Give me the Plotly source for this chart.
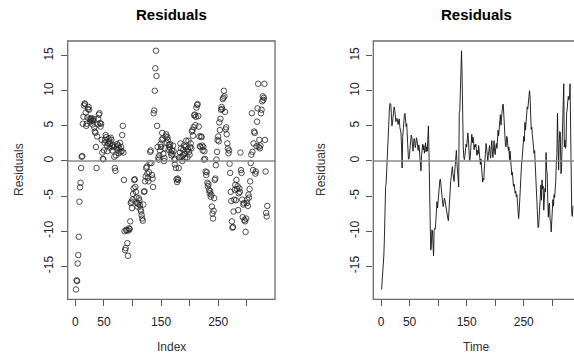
import plotly.graph_objects as go

# ---- data ----
resid_001_013 = [-18.3, -17.0, -17.1, -14.6, -13.4, -10.8, -5.8, -3.75, -3.1, -1.0, 0.6, 0.7, 5.3]
resid_014_049 = [6.3, 7.9, 8.2, 8.1, 6.9, 5.0, 5.3, 6.2, 7.4, 7.7, 7.3, 6.0, 5.6, 5.9, 6.1, 5.7, 5.2, 5.8,
                 6.0, 4.8, 4.2, 4.0, 2.0, -1.0, 3.5, 5.2, 6.0, 6.6, 6.8, 5.4, 4.9, 5.3, 3.0, 1.2, 0.3, 0.25]
resid_050_085 = [1.5, 2.6, 3.0, 3.7, 3.4, 2.2, 1.4, 2.5, 3.2, 2.8, 1.9, 2.4, 3.3, 3.0, 2.1, 1.5, 2.3, 2.0,
                 0.6, -1.0, -1.4, 0.8, 1.9, 2.4, 1.6, 2.2, 1.1, 1.8, 2.6, 1.3, 2.0, 1.4, 3.7, 5.0, 1.2, -2.7]
resid_086_104 = [-10.0, -12.7, -12.4, -9.8, -9.9, -11.7, -13.5, -9.9, -9.6, -9.7, -8.6, -6.0, -5.8, -6.7,
                 -5.5, -4.7, -3.9, -2.7, -2.6]
resid_105_145 = [-3.7, -4.4, -5.2, -6.0, -6.5, -6.1, -5.3, -5.6, -6.3, -6.9, -7.2, -7.7, -8.2, -8.5, -6.2,
                 -4.4, -4.3, -2.9, -2.2, -1.0, -0.8, -1.8, -2.4, -2.9, -1.6, -0.3, 1.3, 1.5, -0.3, -2.0,
                 -2.5, -3.7, 6.8, 7.2, 10.0, 13.2, 15.7, 12.1, 5.0, 2.0, 0.5]
resid_146_199 = [0.2, 0.8, 1.5, 2.4, 2.0, 3.0, 4.0, 3.2, 1.0, 0.0, 0.4, 1.8, 3.5, 3.8, 2.6, 3.4, 3.0, 1.6,
                 2.3, 2.0, 2.4, 1.2, 0.8, 1.5, 1.0, 2.2, 1.4, 0.2, -0.5, 0.3, -1.0, -2.6, -3.0, -2.5,
                 -2.7, -1.0, 0.5, 1.2, 2.5, 1.8, 0.6, 0.0, 0.8, 1.6, 2.2, 1.0, 0.4, 2.0, 2.9, 1.4, 0.5,
                 1.7, 2.9, 1.3]
resid_200_248 = [0.9, 2.0, 2.5, 1.8, 4.2, 4.4, 3.6, 4.8, 6.5, 6.6, 5.1, 6.3, 7.6, 8.0, 8.1, 6.4, 4.9, 3.5,
                 2.1, 2.0, 3.5, 3.4, 2.2, 1.5, 2.0, 0.2, 1.4, 0.3, -1.5, -2.0, -1.6, -3.1, -3.6, -3.3,
                 -4.1, -4.6, -4.3, -5.1, -4.8, -6.5, -7.5, -8.2, -7.1, -5.3, -2.7, -2.5, -0.6, 0.2, 1.3]
resid_249_289 = [3.0, 3.5, 2.8, 5.5, 4.4, 6.0, 7.3, 7.7, 7.4, 8.8, 9.0, 10.0, 9.2, 7.0, 4.5, 4.8, 3.8, 2.5,
                 1.8, 1.1, 1.5, -0.4, -1.7, -4.4, -5.7, -8.6, -9.5, -9.4, -7.2, -5.5, -4.1, -3.4, -5.6,
                 -2.7, -4.0, -3.6, -7.0, -4.6, -3.9, -4.4, 1.2]
resid_290_336 = [-1.3, -1.7, -5.5, -8.0, -6.2, -6.0, -8.4, -8.6, -10.1, -8.2, -6.0, -5.5, -6.4, -4.8, -5.2,
                 -4.0, -2.9, -0.3, 0.9, 6.8, 1.3, -1.3, 2.5, 4.2, 4.0, -1.8, -1.5, 2.1, 5.6, 7.5, 11.0,
                 2.0, 3.0, 1.8, 2.2, 6.8, 7.3, 8.5, 9.2, 8.7, 9.0, 11.0, 3.0, -1.5, -7.4, -7.9, -6.4]

residuals = (resid_001_013 + resid_014_049 + resid_050_085 + resid_086_104 + resid_105_145
             + resid_146_199 + resid_200_248 + resid_249_289 + resid_290_336)
index = list(range(1, len(residuals) + 1))

x_tickvals = [0, 50, 100, 150, 200, 250, 300]
x_ticktext = ["0", "50", "", "150", "", "250", ""]
y_tickvals = [-15, -10, -5, 0, 5, 10, 15]
y_ticktext = ["-15", "-10", "-5", "0", "5", "10", "15"]

# ---- layout geometry (pixels) ----
W, H = 574, 353
LX0, LX1 = 67.7, 275.0
RX0 = 373.3
PW = LX1 - LX0
TOP, BOT = 41.0, 299.3
XR_L = [-13.5, 349.5]
scale = PW / (XR_L[1] - XR_L[0])
XR_R = [-13.5, -13.5 + (W - RX0) / scale]
YR = [-19.7, 17.09]

def px(x):
    return x / W

def py(y):
    return 1 - y / H

FONT = "Liberation Sans, Arial, sans-serif"

fig = go.Figure()
fig.add_trace(go.Scatter(x=index, y=residuals, mode="markers", xaxis="x", yaxis="y",
                         marker=dict(symbol="circle-open", size=5.5, color="#222",
                                     line=dict(width=0.8, color="#222")),
                         showlegend=False, hoverinfo="skip"))
fig.add_trace(go.Scatter(x=index, y=residuals, mode="lines", xaxis="x2", yaxis="y2",
                         line=dict(color="#111", width=0.9), showlegend=False, hoverinfo="skip"))

axis_common = dict(showgrid=False, zeroline=False, showline=False, ticks="outside", ticklen=6,
                   tickwidth=1, tickcolor="#555",
                   tickfont=dict(family=FONT, size=12, color="#222"))

fig.update_layout(
    width=W, height=H, margin=dict(l=0, r=0, t=0, b=0),
    paper_bgcolor="white", plot_bgcolor="white",
    xaxis=dict(domain=[px(LX0), px(LX1)], range=XR_L, tickvals=x_tickvals, ticktext=x_ticktext,
               anchor="y", ticklabelstandoff=5, **axis_common),
    yaxis=dict(domain=[py(BOT), py(TOP)], range=YR, tickvals=y_tickvals, ticktext=y_ticktext,
               tickangle=-90, anchor="x", ticklabelstandoff=3, **axis_common),
    xaxis2=dict(domain=[px(RX0), 1.0], range=XR_R, tickvals=x_tickvals, ticktext=x_ticktext,
                anchor="y2", ticklabelstandoff=5, **axis_common),
    yaxis2=dict(domain=[py(BOT), py(TOP)], range=YR, tickvals=y_tickvals, ticktext=y_ticktext,
                tickangle=-90, anchor="x2", ticklabelstandoff=3, **axis_common),
)

box_line = dict(color="#6a6a6a", width=1.3)
zero_line = dict(color="#8a8a8a", width=1.5)
fig.add_shape(type="line", xref="x domain", yref="y", x0=0, x1=1, y0=0, y1=0, line=zero_line)
fig.add_shape(type="line", xref="x2 domain", yref="y2", x0=0, x1=1, y0=0, y1=0, line=zero_line)
fig.add_shape(type="rect", xref="paper", yref="paper", x0=px(LX0), x1=px(LX1), y0=py(BOT), y1=py(TOP),
              line=box_line, fillcolor="rgba(0,0,0,0)")
fig.add_shape(type="rect", xref="paper", yref="paper", x0=px(RX0), x1=px(RX0 + PW), y0=py(BOT), y1=py(TOP),
              line=box_line, fillcolor="rgba(0,0,0,0)")

def ann(text, x, y, size, angle=0, color="#222"):
    fig.add_annotation(text=text, xref="paper", yref="paper", x=x, y=y, xanchor="center",
                       yanchor="middle", showarrow=False, textangle=angle,
                       font=dict(family=FONT, size=size, color=color))

ann("<b>Residuals</b>", px((LX0 + LX1) / 2), py(15), 15, color="#000")
ann("<b>Residuals</b>", px(RX0 + PW / 2), py(15), 15, color="#000")
ann("Index", px((LX0 + LX1) / 2), py(347), 12, color="#333")
ann("Time", px(RX0 + PW / 2), py(347), 12, color="#333")
ann("Residuals", px(19), py(170), 12, angle=-90, color="#333")
ann("Residuals", px(321), py(170), 12, angle=-90, color="#333")

fig.write_html("out.html")
